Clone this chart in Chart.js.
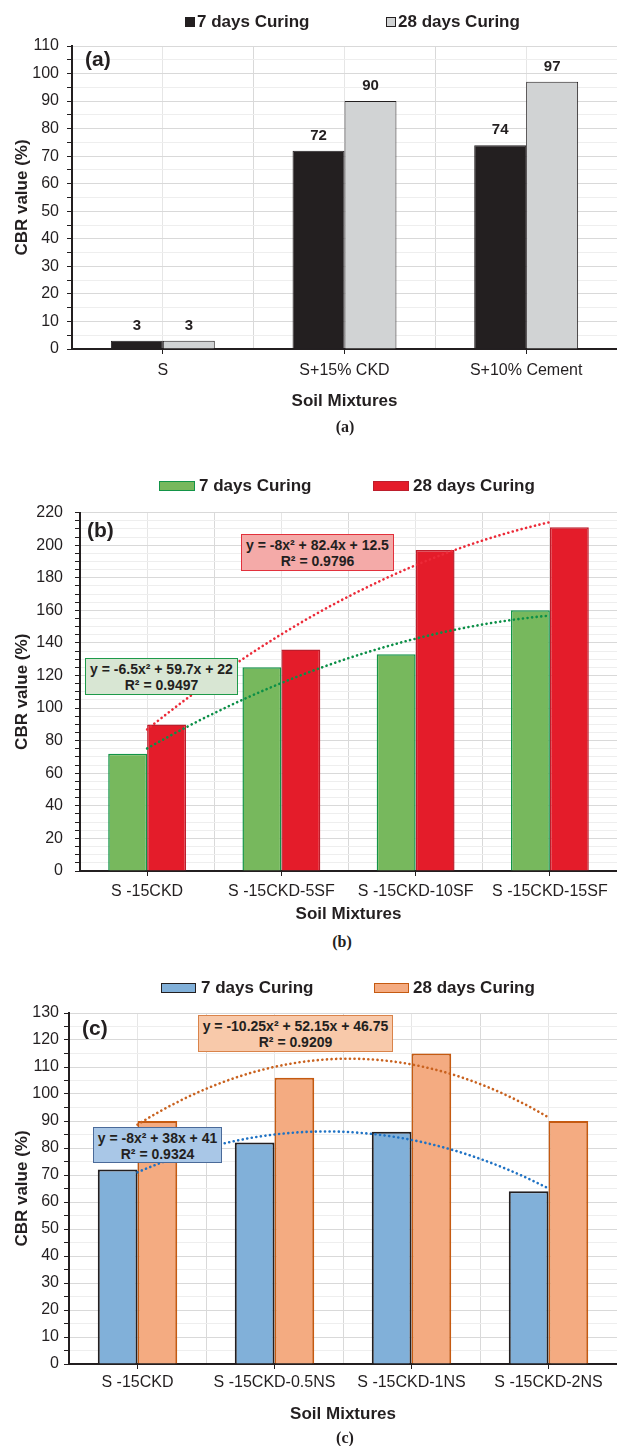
<!DOCTYPE html>
<html lang="en">
<head>
<meta charset="utf-8">
<title>CBR value of soil mixtures</title>
<script src="https://cdn.jsdelivr.net/npm/chart.js@4.4.1/dist/chart.umd.min.js"></script>
<style>
  html, body { margin: 0; padding: 0; background: #fff; }
  body { position: relative; width: 617px; height: 1446px; overflow: hidden;
         font-family: "Liberation Sans", Arial, Helvetica, sans-serif; color: #231f20; }
  .chart-box { position: absolute; left: 0; width: 617px; }
  .key { position: absolute; height: 20px; line-height: 20px; font-size: 17px; font-weight: bold; white-space: nowrap; }
  .swatch { position: absolute; box-sizing: border-box; }
  .tag { position: absolute; font-size: 21px; font-weight: bold; line-height: 24px; white-space: nowrap; }
  .caption { position: absolute; width: 100px; text-align: center; font-family: "Liberation Serif", "Times New Roman", serif;
             font-weight: bold; font-size: 16px; line-height: 20px; }
  .eq { position: absolute; box-sizing: border-box; border: 1px solid; text-align: center; font-size: 14px;
        font-weight: bold; line-height: 16px; padding-top: 2px; white-space: nowrap; }
</style>
</head>
<body>
<div class="chart-box" style="top:26px;height:393px"><canvas id="chartA"></canvas></div>
<div class="chart-box" style="top:491px;height:440px"><canvas id="chartB"></canvas></div>
<div class="chart-box" style="top:993px;height:439px"><canvas id="chartC"></canvas></div>
<script>
// ---------- data ----------
const seriesNames = ['7 days Curing', '28 days Curing'];

const mixesA = ['S', 'S+15% CKD', 'S+10% Cement'];
const cbr7A  = [3, 72, 74];
const cbr28A = [3, 90, 97];

const mixesB = ['S -15CKD', 'S -15CKD-5SF', 'S -15CKD-10SF', 'S -15CKD-15SF'];
const cbr7B  = [72, 125, 133, 160];
const cbr28B = [90, 136, 197, 211];

const mixesC = ['S -15CKD', 'S -15CKD-0.5NS', 'S -15CKD-1NS', 'S -15CKD-2NS'];
const cbr7C  = [72, 82, 86, 64];
const cbr28C = [90, 106, 115, 90];

// second-order polynomial trendlines: [a, b, c] of y = ax² + bx + c, plus R²
const fit7B  = [-6.5, 59.7, 22];
const fit28B = [-8, 82.4, 12.5];
const fit7C  = [-8, 38, 41];
const fit28C = [-10.25, 52.15, 46.75];
const r2_7B = 0.9497, r2_28B = 0.9796, r2_7C = 0.9324, r2_28C = 0.9209;

// y axes: [max, labelled step, major grid step, minor step]
const yAxisA = [110, 10, 10, 5];
const yAxisB = [220, 20, 20, 5];
const yAxisC = [130, 10, 10, 5];

const xTitle = 'Soil Mixtures';
const yTitle = 'CBR value (%)';

// ---------- styling ----------
const INK = '#231f20';
const FONT = '"Liberation Sans", Arial, Helvetica, sans-serif';
Chart.defaults.font.family = FONT;
Chart.defaults.color = INK;

const GRID_MAJOR = '#d9d9d9';
const GRID_MINOR = '#eeeeee';
const GRID_MID = '#e6e6e6';

function equationText(coef) {
  return 'y = ' + coef[0] + 'x\u00B2 + ' + coef[1] + 'x + ' + coef[2];
}

// value labels above each bar
const barValueLabels = {
  id: 'barValueLabels',
  afterDatasetsDraw(chart) {
    const ctx = chart.ctx;
    ctx.save();
    ctx.font = 'bold 15px ' + FONT;
    ctx.fillStyle = INK;
    ctx.textAlign = 'center';
    ctx.textBaseline = 'middle';
    chart.data.datasets.forEach((ds, di) => {
      const meta = chart.getDatasetMeta(di);
      if (meta.type !== 'bar') return;
      meta.data.forEach((bar, i) => ctx.fillText(String(ds.data[i]), bar.x, bar.y - 15));
    });
    ctx.restore();
  }
};

// dotted polynomial trendlines, x = 1..n following the category order,
// placed through the chart's own category and value scales
function trendlinePlugin(curves) {
  return {
    id: 'trendlines',
    afterDatasetsDraw(chart) {
      const { ctx, chartArea: a } = chart;
      const xs = chart.scales.x, ys = chart.scales.y;
      const n = chart.data.labels.length;
      ctx.save();
      ctx.beginPath();
      ctx.rect(a.left, a.top, a.right - a.left, a.bottom - a.top);
      ctx.clip();
      curves.forEach(c => {
        const steps = 150;
        ctx.beginPath();
        for (let i = 0; i <= steps; i++) {
          const t = 1 + (n - 1) * i / steps;
          const v = c.coef[0] * t * t + c.coef[1] * t + c.coef[2];
          const px = xs.getPixelForValue(t - 1);
          const py = ys.getPixelForValue(v);
          if (i === 0) ctx.moveTo(px, py); else ctx.lineTo(px, py);
        }
        ctx.strokeStyle = c.color;
        ctx.lineWidth = 2.6;
        ctx.lineCap = 'round';
        ctx.setLineDash([0.1, 4.5]);
        ctx.stroke();
      });
      ctx.restore();
    }
  };
}

function makeChart(canvasId, p) {
  const n = p.labels.length;
  const [yMax, yLabelStep, yMajor, yMinor] = p.yAxis;
  const datasets = [
    { label: seriesNames[0], data: p.v7, backgroundColor: p.fill7, borderColor: p.edge7, borderWidth: p.barEdge },
    { label: seriesNames[1], data: p.v28, backgroundColor: p.fill28, borderColor: p.edge28, borderWidth: p.barEdge }
  ];
  const plugins = [];
  if (p.valueLabels) plugins.push(barValueLabels);
  if (p.trends) plugins.push(trendlinePlugin(p.trends));

  return new Chart(document.getElementById(canvasId), {
    type: 'bar',
    data: { labels: p.labels, datasets },
    options: {
      responsive: true,
      maintainAspectRatio: false,
      animation: false,
      events: [],
      layout: { padding: { top: 20, right: 0, bottom: 0, left: 0 } },
      plugins: { legend: { display: false }, tooltip: { enabled: false } },
      datasets: { bar: { categoryPercentage: p.groupWidth, barPercentage: 1 } },
      scales: {
        x: {
          type: 'category', offset: true,
          grid: { offset: false, color: GRID_MID, tickColor: INK, tickLength: 5, lineWidth: 1 },
          border: { color: INK, width: 2 },
          ticks: { font: { size: 16 }, color: INK, padding: p.xTickPad, autoSkip: false, maxRotation: 0 },
          title: { display: true, text: xTitle, color: INK, font: { size: 17, weight: 'bold' },
                   padding: { top: 0, bottom: p.xTitlePad } },
          afterFit: s => { s.height = p.xAxisH; }
        },
        xb: {
          type: 'category', position: 'bottom', offset: true,
          grid: { offset: true, drawTicks: false,
                  color: c => (c.type === 'tick' && c.index > 0) ? GRID_MAJOR : 'rgba(0,0,0,0)' },
          border: { display: false },
          ticks: { display: false },
          afterFit: s => { s.height = 0; }
        },
        y: {
          min: 0, max: yMax,
          ticks: { stepSize: yMinor, autoSkip: false, maxTicksLimit: 200, font: { size: 16 }, color: INK,
                   padding: p.yTickPad, callback: v => (v % yLabelStep === 0 ? v : '') },
          grid: { tickLength: 5, tickColor: INK,
                  color: c => (c.type === 'tick' && c.tick.value % yMajor === 0) ? GRID_MAJOR : GRID_MINOR },
          border: { color: INK, width: 2 },
          title: { display: true, text: yTitle, color: INK, font: { size: 17, weight: 'bold' },
                   padding: { top: 12, bottom: 0 } },
          afterFit: s => { s.width = p.yAxisW; }
        }
      }
    },
    plugins
  });
}

// ---------- panels ----------
const GREEN = '#77b85d', GREEN_EDGE = '#139448';
const RED = '#e41c2a', RED_EDGE = '#bd1e2c';
const BLUE = '#81b0d9', BLUE_EDGE = INK;
const ORANGE = '#f4ab81', ORANGE_EDGE = '#c55a11';
const GREY = '#d1d3d4';

makeChart('chartA', {
  labels: mixesA, v7: cbr7A, v28: cbr28A, yAxis: yAxisA,
  fill7: INK, edge7: INK, fill28: GREY, edge28: INK, barEdge: 1,
  groupWidth: 0.572, yAxisW: 72, yTickPad: 8, xAxisH: 70, xTickPad: 7, xTitlePad: 7,
  valueLabels: true
});

makeChart('chartB', {
  labels: mixesB, v7: cbr7B, v28: cbr28B, yAxis: yAxisB,
  fill7: GREEN, edge7: GREEN_EDGE, fill28: RED, edge28: RED_EDGE, barEdge: 1.5,
  groupWidth: 0.58, yAxisW: 80, yTickPad: 12, xAxisH: 60, xTickPad: 6, xTitlePad: 6,
  trends: [ { coef: fit7B, color: '#0b8f47' }, { coef: fit28B, color: '#ec2a38' } ]
});

makeChart('chartC', {
  labels: mixesC, v7: cbr7C, v28: cbr28C, yAxis: yAxisC,
  fill7: BLUE, edge7: BLUE_EDGE, fill28: ORANGE, edge28: ORANGE_EDGE, barEdge: 2,
  groupWidth: 0.58, yAxisW: 69, yTickPad: 5, xAxisH: 68, xTickPad: 4, xTitlePad: 7,
  trends: [ { coef: fit7C, color: '#1f72c4' }, { coef: fit28C, color: '#c9621f' } ]
});

// ---------- legends, panel tags, captions, trendline equations ----------
function addDiv(cls, style, text) {
  const d = document.createElement('div');
  d.className = cls;
  Object.assign(d.style, style);
  if (text !== undefined) d.textContent = text;
  document.body.appendChild(d);
  return d;
}

function legend(centerY, items) {
  items.forEach((it, i) => {
    addDiv('swatch', { left: it.x + 'px', top: (centerY - it.h / 2) + 'px', width: it.w + 'px', height: it.h + 'px',
                       background: it.fill, border: it.bw + 'px solid ' + it.edge });
    addDiv('key', { left: it.tx + 'px', top: (centerY - 10) + 'px' }, seriesNames[i]);
  });
}

legend(22, [
  { x: 185, w: 10, h: 10, fill: INK, edge: INK, bw: 1, tx: 197 },
  { x: 386, w: 10, h: 10, fill: GREY, edge: INK, bw: 1, tx: 398 }
]);
legend(486, [
  { x: 159, w: 36, h: 10, fill: GREEN, edge: GREEN_EDGE, bw: 1.5, tx: 199 },
  { x: 373, w: 36, h: 10, fill: RED, edge: RED_EDGE, bw: 1.5, tx: 413 }
]);
legend(988, [
  { x: 161, w: 35, h: 10, fill: BLUE, edge: BLUE_EDGE, bw: 1.5, tx: 201 },
  { x: 374, w: 35, h: 10, fill: ORANGE, edge: ORANGE_EDGE, bw: 1.5, tx: 413 }
]);

addDiv('tag', { left: '85px', top: '47px' }, '(a)');
addDiv('tag', { left: '87px', top: '518px' }, '(b)');
addDiv('tag', { left: '82px', top: '1016px' }, '(c)');

addDiv('caption', { left: '295px', top: '417px' }, '(a)');
addDiv('caption', { left: '292px', top: '932px' }, '(b)');
addDiv('caption', { left: '295px', top: '1428px' }, '(c)');

function eqBox(left, top, w, h, fill, edge, coef, r2) {
  const d = addDiv('eq', { left: left + 'px', top: top + 'px', width: w + 'px', height: h + 'px',
                           background: fill, borderColor: edge });
  d.appendChild(document.createTextNode(equationText(coef)));
  d.appendChild(document.createElement('br'));
  d.appendChild(document.createTextNode('R\u00B2 = ' + r2.toFixed(4)));
}

eqBox(241, 534, 153, 37, '#f4aaa8', '#e2313c', fit28B, r2_28B);
eqBox(85, 658, 153, 37, '#d8e6d3', '#1e9a4a', fit7B, r2_7B);
eqBox(198, 1015, 195, 37, '#f8c9aa', '#d9834a', fit28C, r2_28C);
eqBox(93, 1127, 129, 36, '#a9c7e7', '#4a6a99', fit7C, r2_7C);
</script>
</body>
</html>
